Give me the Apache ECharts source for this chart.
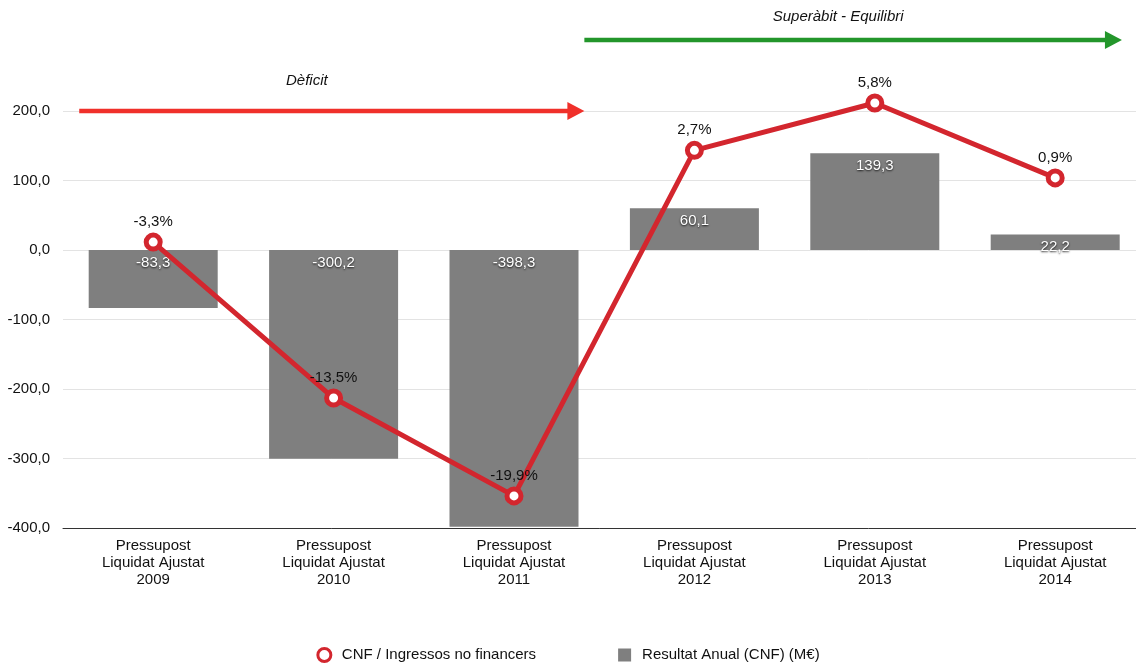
<!DOCTYPE html>
<html>
<head>
<meta charset="utf-8">
<script src="https://cdn.jsdelivr.net/npm/echarts@6/dist/echarts.min.js"></script>
<style>
html,body{margin:0;padding:0;background:#fff;}
#main{width:1136px;height:665px;}
</style>
</head>
<body>
<div id="main"></div>
<script>
const categories = ['Pressupost\nLiquidat Ajustat\n2009','Pressupost\nLiquidat Ajustat\n2010','Pressupost\nLiquidat Ajustat\n2011','Pressupost\nLiquidat Ajustat\n2012','Pressupost\nLiquidat Ajustat\n2013','Pressupost\nLiquidat Ajustat\n2014'];
const resultatAnual = [-83.3, -300.2, -398.3, 60.1, 139.3, 22.2];
const cnfRatio = [-3.3, -13.5, -19.9, 2.7, 5.8, 0.9];
const yTicks = {min: -400, max: 300, interval: 100};
const lineName = 'CNF / Ingressos no financers';
const barName = 'Resultat Anual (CNF) (M€)';
const annotations = [
  {text: 'Dèficit', value: 200, color: '#f0302a'},
  {text: 'Superàbit - Equilibri', value: 300, color: '#23962b'}
];

const FONT = '"Liberation Sans", Arial, Helvetica, sans-serif';
const fmt = v => v.toFixed(1).replace('.', ',');
const chart = echarts.init(document.getElementById('main'), null, {renderer: 'canvas'});

const option = {
  backgroundColor: '#ffffff',
  animation: false,
  textStyle: {fontFamily: FONT},
  grid: {left: 63, width: 1082.4, top: 41.5, height: 486.5, outerBoundsMode: 'none', containLabel: false},
  legend: {
    top: 642,
    left: 'center',
    itemGap: 82,
    itemWidth: 13,
    itemHeight: 13,
    textStyle: {fontFamily: FONT, fontSize: 15, color: '#111', padding: [0, 0, 0, 6]},
    data: [
      {name: lineName, icon: 'circle', itemStyle: {color: '#fff', borderColor: '#d3262e', borderWidth: 3}},
      {name: barName, icon: 'rect', itemStyle: {color: '#7f7f7f'}}
    ]
  },
  xAxis: {
    type: 'category',
    data: categories,
    axisLine: {onZero: false, lineStyle: {color: '#333', width: 1}},
    axisTick: {show: false},
    axisLabel: {fontFamily: FONT, fontSize: 15, color: '#111', lineHeight: 17, margin: 9, interval: 0}
  },
  yAxis: [
    {
      type: 'value',
      min: yTicks.min, max: yTicks.max, interval: yTicks.interval,
      axisLine: {show: false},
      axisTick: {show: false},
      axisLabel: {fontFamily: FONT, fontSize: 15, color: '#111', margin: 13, showMaxLabel: false,
        formatter: v => fmt(v)},
      splitLine: {show: true, showMaxLine: false, lineStyle: {color: '#e3e3e3', width: 1}}
    },
    {
      type: 'value',
      min: -22, max: 9.82,
      show: false,
      splitLine: {show: false}
    }
  ],
  series: [
    {
      name: barName,
      type: 'bar',
      yAxisIndex: 0,
      barWidth: 129,
      data: resultatAnual,
      itemStyle: {color: '#7f7f7f'},
      label: {
        show: true, position: 'insideTop', distance: 5,
        fontFamily: FONT, fontSize: 15, color: '#fff',
        textShadowColor: 'rgba(0,0,0,0.85)', textShadowBlur: 2, textShadowOffsetX: 0, textShadowOffsetY: 1,
        formatter: p => fmt(p.value)
      },
      z: 2
    },
    {
      name: lineName,
      type: 'line',
      yAxisIndex: 1,
      data: cnfRatio,
      symbol: 'circle',
      symbolSize: 14,
      lineStyle: {color: '#d3262e', width: 5},
      itemStyle: {color: '#fff', borderColor: '#d3262e', borderWidth: 5},
      label: {
        show: true, position: 'top', distance: 3,
        fontFamily: FONT, fontSize: 15, color: '#111',
        formatter: p => fmt(p.value) + '%'
      },
      z: 5
    }
  ]
};
chart.setOption(option);

// annotation arrows above the plot (positioned via axis conversion)
const xOf = i => chart.convertToPixel({xAxisIndex: 0}, i);
const yOf = v => chart.convertToPixel({yAxisIndex: 0}, v);
const band = xOf(1) - xOf(0);
const spans = [
  [xOf(0) - 0.41 * band, xOf(2) + 0.39 * band],
  [xOf(2) + 0.39 * band, xOf(5) + 0.37 * band]
];
const graphics = [];
annotations.forEach((a, k) => {
  const y = yOf(a.value) - (k === 1 ? 1.5 : 0);
  const [x0, x1] = spans[k];
  graphics.push({
    type: 'line', silent: true, z: 10,
    shape: {x1: x0, y1: y, x2: x1 - 14, y2: y},
    style: {stroke: a.color, lineWidth: 4.5}
  });
  graphics.push({
    type: 'polygon', silent: true, z: 10,
    shape: {points: [[x1 - 17, y - 9], [x1, y], [x1 - 17, y + 9]]},
    style: {fill: a.color}
  });
  graphics.push({
    type: 'text', silent: true, z: 10,
    x: (x0 + x1) / 2 - (k === 0 ? 25 : 15), y: y - (k === 0 ? 30 : 23),
    style: {text: a.text, fontFamily: FONT, fontSize: 15, fontStyle: 'italic', fill: '#111',
      align: 'center', verticalAlign: 'middle'}
  });
});
chart.setOption({graphic: graphics});
</script>
</body>
</html>
